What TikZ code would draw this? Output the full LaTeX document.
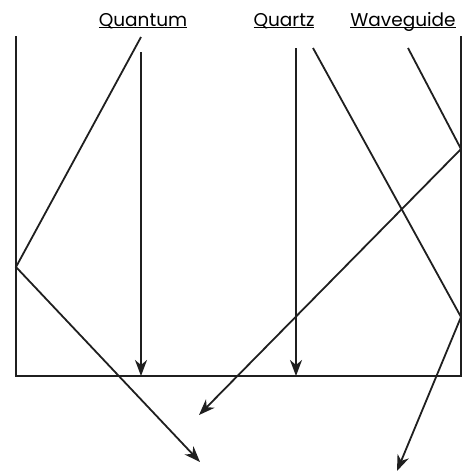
\documentclass[tikz,border=0pt]{standalone}
\usepackage{fontspec}
\setmainfont{Poppins}
\usetikzlibrary{positioning, arrows.meta}
\tikzset{
  beam/.style={line width=1.8pt, black!88},
  ray/.style={beam, -{Stealth[length=16pt, width=12pt, inset=5pt]}},
  lbl/.style={anchor=base, inner sep=0pt, font=\fontsize{18.5}{22}\selectfont}
}
\newcommand{\ulbl}[1]{\underline{\raisebox{0pt}[\height][0pt]{#1}}}

\begin{document}
\begin{tikzpicture}[x=1pt, y=-1pt]
  \useasboundingbox (0,0) rectangle (462,475);
  % labels on top
  \node[lbl] (qm) at (143,26) {\ulbl{Quantum}};
  \node[lbl] (qz) at (284,26) {\ulbl{Quartz}};
  \node[lbl] (wg) at (403,26) {\ulbl{Waveguide}};
  % the plate
  \draw[beam] (16,36) -- (16,376) -- (461,376) -- (461,36);
  % points of the rays
  \coordinate (qa) at (141,37);  \coordinate (ql) at (16,267);  \coordinate (qe) at (200,462);
  \coordinate (qv) at (141,52);  \coordinate (qb) at (141,376);
  \coordinate (zv) at (296,48);  \coordinate (zb) at (296,376);
  \coordinate (zs) at (313,48);  \coordinate (zr) at (461,317); \coordinate (ze) at (397,471);
  \coordinate (ws) at (408,48);  \coordinate (wr) at (461,149); \coordinate (we) at (199,415);
  % rays
  \draw[ray] (qa) -- (ql) -- (qe);
  \draw[ray] (qv) -- (qb);
  \draw[ray] (zv) -- (zb);
  \draw[ray] (zs) -- (zr) -- (ze);
  \draw[ray] (ws) -- (wr) -- (we);
\end{tikzpicture}
\end{document}
